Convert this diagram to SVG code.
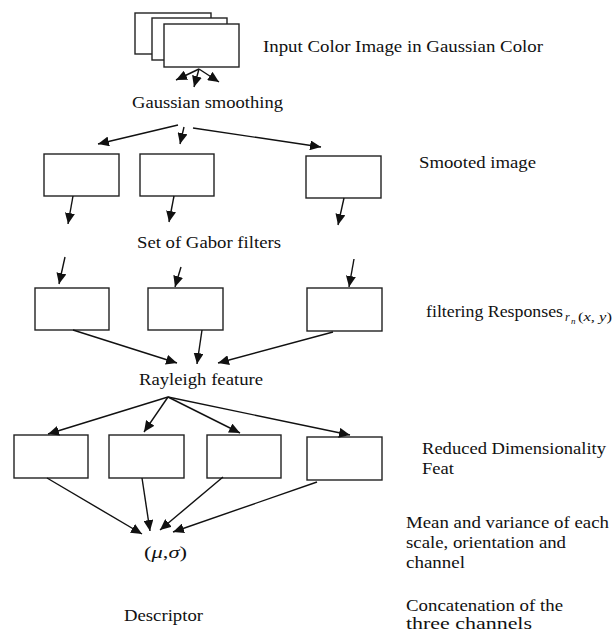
<svg xmlns="http://www.w3.org/2000/svg" width="613" height="632" viewBox="0 0 613 632">
<style>
.box{fill:#fff;stroke:#222;stroke-width:1.4}
text{font-family:'Liberation Serif','DejaVu Serif',serif;font-size:17px;fill:#111}
.con{stroke:#111;stroke-width:1.4;fill:none;marker-end:url(#ah)}
</style>
<defs>
<marker id="ah" markerUnits="userSpaceOnUse" markerWidth="11" markerHeight="10" refX="11" refY="5" orient="auto">
<path d="M0,0 L11,5 L0,10 z" fill="#111"/>
</marker>
</defs>
<rect width="613" height="632" fill="#fff"/>
<g id="input">
<rect class="box" x="135" y="13" width="76" height="41"/>
<rect class="box" x="152" y="18" width="75" height="42"/>
<rect class="box" x="164" y="24" width="75" height="43"/>
</g>
<g id="smooth1"><rect class="box" x="44" y="154" width="75" height="42"/></g>
<g id="smooth2"><rect class="box" x="140" y="154" width="74" height="42"/></g>
<g id="smooth3"><rect class="box" x="306" y="156" width="75" height="42"/></g>
<g id="gabor1"><rect class="box" x="35" y="288" width="74" height="42"/></g>
<g id="gabor2"><rect class="box" x="148" y="288" width="75" height="42"/></g>
<g id="gabor3"><rect class="box" x="307" y="288" width="75" height="43"/></g>
<g id="red1"><rect class="box" x="14" y="435" width="74" height="43"/></g>
<g id="red2"><rect class="box" x="109" y="435" width="75" height="43"/></g>
<g id="red3"><rect class="box" x="207" y="435" width="74" height="43"/></g>
<g id="red4"><rect class="box" x="307" y="437" width="75" height="43"/></g>
<g id="connectors">
<line class="con" x1="199" y1="69" x2="176" y2="80"/>
<line class="con" x1="199" y1="69" x2="194" y2="87"/>
<line class="con" x1="199" y1="69" x2="219" y2="82"/>
<line class="con" x1="178" y1="125" x2="98" y2="144"/>
<line class="con" x1="184" y1="127" x2="180" y2="144"/>
<line class="con" x1="193" y1="128" x2="321" y2="147"/>
<line class="con" x1="73" y1="196" x2="68" y2="224"/>
<line class="con" x1="174" y1="196" x2="169" y2="222"/>
<line class="con" x1="344" y1="198" x2="338" y2="225"/>
<line class="con" x1="65" y1="257" x2="59" y2="284"/>
<line class="con" x1="181" y1="267" x2="175" y2="287"/>
<line class="con" x1="354" y1="259" x2="349" y2="287"/>
<line class="con" x1="73" y1="330" x2="177" y2="363"/>
<line class="con" x1="202" y1="330" x2="197" y2="364"/>
<line class="con" x1="333" y1="332" x2="218" y2="363"/>
<line class="con" x1="168" y1="397" x2="48" y2="434"/>
<line class="con" x1="168" y1="397" x2="144" y2="432"/>
<line class="con" x1="168" y1="397" x2="240" y2="433"/>
<line class="con" x1="168" y1="397" x2="350" y2="435"/>
<line class="con" x1="47" y1="478" x2="142" y2="534"/>
<line class="con" x1="142" y1="478" x2="150" y2="531"/>
<line class="con" x1="223" y1="477" x2="160" y2="530"/>
<line class="con" x1="317" y1="482" x2="173" y2="532"/>
</g>
<g id="labels">
<text x="263" y="52" textLength="280" lengthAdjust="spacingAndGlyphs">Input Color Image in Gaussian Color</text>
<text x="132" y="108" textLength="151" lengthAdjust="spacingAndGlyphs">Gaussian smoothing</text>
<text x="419" y="168" textLength="117" lengthAdjust="spacingAndGlyphs">Smooted image</text>
<text x="137" y="248" textLength="144" lengthAdjust="spacingAndGlyphs">Set of Gabor filters</text>
<text x="426" y="317" textLength="137" lengthAdjust="spacingAndGlyphs">filtering Responses</text>
<text x="565" y="321" style="font-size:12px;font-style:italic">r</text>
<text x="571" y="324" style="font-size:9px;font-style:italic">n</text>
<text x="578" y="321" style="font-size:13px" textLength="34" lengthAdjust="spacingAndGlyphs">(<tspan font-style="italic">x</tspan>, <tspan font-style="italic">y</tspan>)</text>
<text x="139" y="385" textLength="124" lengthAdjust="spacingAndGlyphs">Rayleigh feature</text>
<text x="422" y="454" textLength="184" lengthAdjust="spacingAndGlyphs">Reduced Dimensionality</text>
<text x="422" y="474" textLength="32" lengthAdjust="spacingAndGlyphs">Feat</text>
<text x="144" y="558" textLength="43" lengthAdjust="spacingAndGlyphs">(<tspan font-style="italic">μ</tspan>,<tspan font-style="italic">σ</tspan>)</text>
<text x="406" y="528" textLength="203" lengthAdjust="spacingAndGlyphs">Mean and variance of each</text>
<text x="406" y="548" textLength="160" lengthAdjust="spacingAndGlyphs">scale, orientation and</text>
<text x="406" y="568" textLength="59" lengthAdjust="spacingAndGlyphs">channel</text>
<text x="124" y="621" textLength="79" lengthAdjust="spacingAndGlyphs">Descriptor</text>
<text x="406" y="611" textLength="157" lengthAdjust="spacingAndGlyphs">Concatenation of the</text>
<text x="406" y="629" textLength="126" lengthAdjust="spacingAndGlyphs">three channels</text>
</g>
</svg>
